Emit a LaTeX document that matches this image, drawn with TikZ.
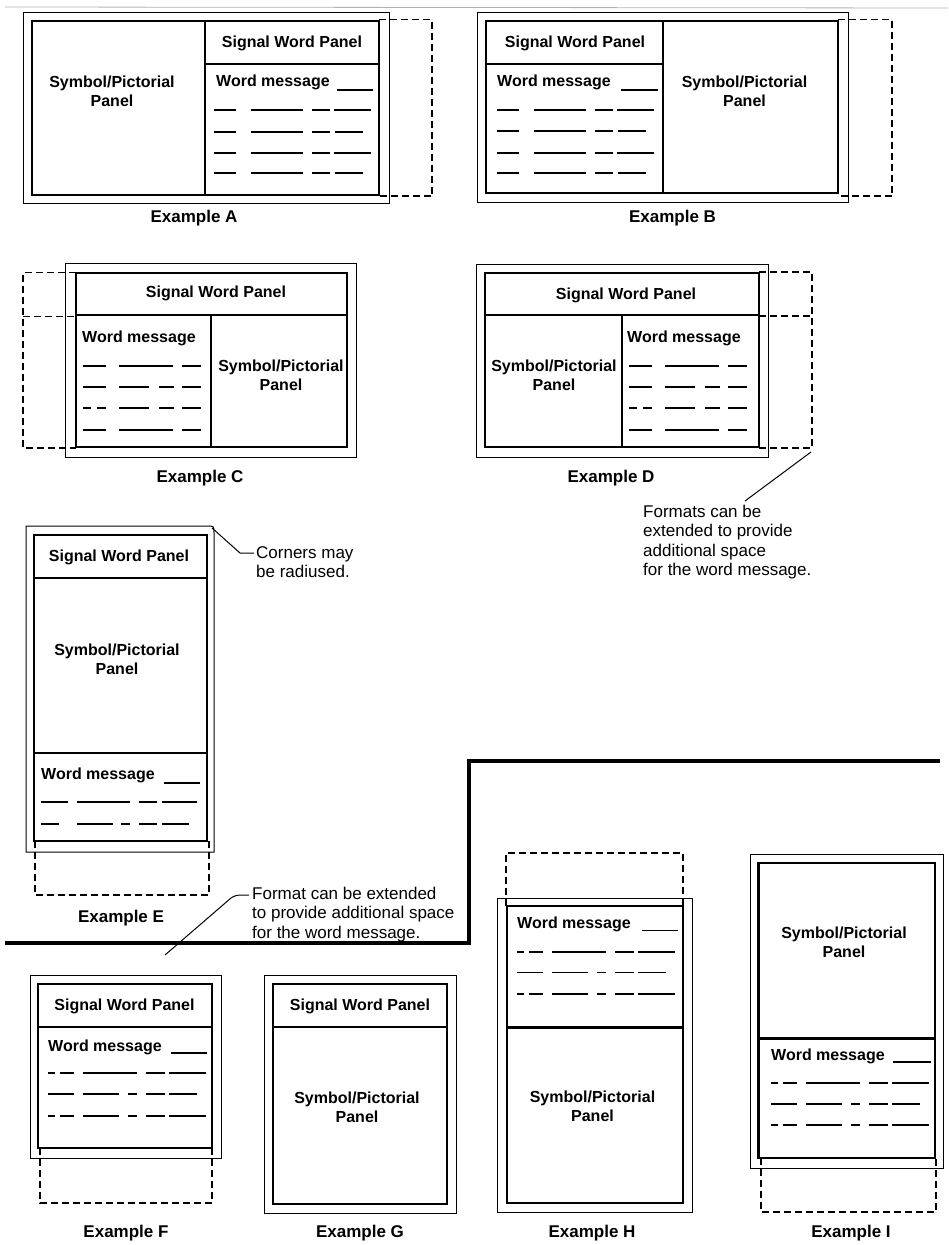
\documentclass[tikz,border=0pt]{standalone}
\usepackage{fontspec}
\setmainfont{Liberation Sans}
\tikzset{
outer/.style={line width=1pt}, % thin outer frame of a sign
panel/.style={line width=2.7pt}, % heavy panel borders and dividers
extend/.style={line width=1.2pt, dash pattern=on 7pt off 4pt}, % room to extend the format
msg/.style={line width=1.7pt}, % dummy lines of the word message
lbl/.style={font=\bfseries\fontsize{16}{19}\selectfont, align=center, inner sep=0pt},
exlabel/.style={font=\bfseries\fontsize{17}{20}\selectfont, inner sep=0pt},
note/.style={font=\fontsize{17}{19.3}\selectfont, align=left, inner sep=0pt},
}
% one row of message dashes: start x, y, list of from/to offsets
\newcommand{\msgrow}[3]{\foreach \a/\b in #3 {\draw[msg] ({#1+\a},#2) -- ({#1+\b},#2);}}
\def\abfull{0/22,37/89,98/116,120/157}
\def\abshort{0/22,37/89,98/116,121/149}
\def\cdone{0/23,36/90,99/118}
\def\cdtwo{0/23,36/66,76/91,99/118}
\def\cdthree{0/8,14/23,36/66,76/91,99/118}
\def\eone{0/27,36/89,98/116,121/156}
\def\etwo{0/18,36/72,80/89,98/116,121/148}
\def\fhone{0/7,12/26,35/89,98/117,121/158}
\def\fhtwo{0/26,35/71,80/89,98/117,121/149}
\def\fhthree{0/7,12/26,35/71,80/89,98/117,121/158}

\begin{document}
\begin{tikzpicture}[x=1pt, y=-1pt]
\useasboundingbox (0,0) rectangle (948,1245);
\draw[gray!60, line width=0.8pt] (5,7) -- (948,8);

% Example A
\draw[extend] (379,19.5) -- (432,19.5) -- (432,196) -- (379,196);
\draw[outer] (23,12) rectangle (389,203);
\draw[panel] (32,21) rectangle (379,195) (205,21) -- (205,195) (205,64) -- (379,64);
\node[lbl] (spA) at (112,91.5) {Symbol/Pictorial\\Panel};
\node[lbl] (swA) at (292,43) {Signal Word Panel};
\node[lbl, anchor=west] (wmA) at (216,82) {Word message};
\draw[msg] (337,90) -- (373,90);
\msgrow{214}{110}{\abfull}
\msgrow{214}{132}{\abshort}
\msgrow{214}{153}{\abfull}
\msgrow{214}{173}{\abshort}
\node[exlabel] (exA) at (194,218) {Example A};

% Example B
\draw[extend] (838,19.5) -- (892,19.5) -- (892,196) -- (838,196);
\draw[outer] (477,12) rectangle (848,202);
\draw[panel] (486,21) rectangle (838,193) (663,21) -- (663,193) (486,64) -- (663,64);
\node[lbl] (swB) at (575,43) {Signal Word Panel};
\node[lbl, anchor=west] (wmB) at (497,82) {Word message};
\draw[msg] (621,90) -- (658,90);
\msgrow{497}{110}{\abfull}
\msgrow{497}{131}{\abshort}
\msgrow{497}{153}{\abfull}
\msgrow{497}{173}{\abshort}
\node[lbl] (spB) at (744.5,91.5) {Symbol/Pictorial\\Panel};
\node[exlabel] (exB) at (672.5,218) {Example B};

% Example C
\draw[extend] (76,272.5) -- (23,272.5) -- (23,448) -- (76,448) (23,316.5) -- (76,316.5);
\draw[outer] (65,263) rectangle (356,457);
\draw[panel] (76,273) rectangle (347,447) (76,315) -- (347,315) (211,315) -- (211,447);
\node[lbl] (swC) at (216,293) {Signal Word Panel};
\node[lbl, anchor=west] (wmC) at (82,338) {Word message};
\msgrow{83}{366}{\cdone}
\msgrow{83}{387}{\cdtwo}
\msgrow{83}{408}{\cdthree}
\msgrow{83}{430}{\cdone}
\node[lbl] (spC) at (281,375.5) {Symbol/Pictorial\\Panel};
\node[exlabel] (exC) at (200,478) {Example C};

% Example D
\draw[extend] (759,272) -- (812,272) -- (812,448) -- (759,448) (759,316) -- (812,316);
\draw[outer] (476,264) rectangle (768,457);
\draw[panel] (485,273) rectangle (759,447) (485,315) -- (759,315) (622,315) -- (622,447);
\node[lbl] (swD) at (626,295) {Signal Word Panel};
\node[lbl] (spD) at (554,375.5) {Symbol/Pictorial\\Panel};
\node[lbl, anchor=west] (wmD) at (627,338) {Word message};
\msgrow{629}{366}{\cdone}
\msgrow{629}{387}{\cdtwo}
\msgrow{629}{408}{\cdthree}
\msgrow{629}{430}{\cdone}
\node[exlabel] (exD) at (611,478) {Example D};
\node[note, anchor=north west] (noteD) at (643,505) {Formats can be\\extended to provide\\additional space\\for the word message.};
\coordinate (extD) at (811,452);
\coordinate (tipD) at (745,501);
\draw[line width=1pt] (extD) -- (tipD);

% Example E
\draw[extend] (35,841) -- (35,895) -- (209,895) -- (209,841);
\draw[outer] (26,852) -- (26,526) -- (207,526) .. controls (214,526) .. (214,533) -- (214,852) -- cycle;
\draw[panel] (34,535) rectangle (207,841) (34,578) -- (207,578) (34,753) -- (207,753);
\node[lbl] (swE) at (119,557) {Signal Word Panel};
\node[lbl] (spE) at (117,659) {Symbol/Pictorial\\Panel};
\node[lbl, anchor=west] (wmE) at (41,775) {Word message};
\draw[msg] (164,783) -- (200,783);
\msgrow{41}{802}{\eone}
\msgrow{41}{824}{\etwo}
\node[exlabel] (exE) at (121,918) {Example E};
\node[note, anchor=north west] (noteE) at (256,546) {Corners may\\be radiused.};
\coordinate (crE) at (212,528);
\coordinate (tipE) at (254,553);
\draw[line width=1pt] (crE) -- (240,553) -- (tipE);

% divider between the two groups
\draw[line width=4pt] (5,943) -- (469,943) -- (469,761) -- (940,761);

% Example F
\draw[extend] (40,1148) -- (40,1203) -- (212,1203) -- (212,1148);
\draw[outer] (30,975) rectangle (221,1158);
\draw[panel] (38,984) rectangle (212,1148) (38,1027) -- (212,1027);
\node[lbl] (swF) at (124.5,1006) {Signal Word Panel};
\node[lbl, anchor=west] (wmF) at (48,1047) {Word message};
\draw[msg] (171,1053) -- (207,1053);
\msgrow{48}{1073}{\fhone}
\msgrow{48}{1094}{\fhtwo}
\msgrow{48}{1116}{\fhthree}
\node[exlabel] (exF) at (126,1233) {Example F};
\node[note, anchor=north west] (noteF) at (252,887) {Format can be extended\\to provide additional space\\for the word message.};
\coordinate (tipF) at (165,955);
\coordinate (endF) at (249,895);
\draw[line width=1pt] (tipF) -- (231,898) .. controls (236,895) .. (endF);

% Example G
\draw[outer] (264,975) rectangle (456,1213);
\draw[panel] (273,984) rectangle (447,1204) (273,1027) -- (447,1027);
\node[lbl] (swG) at (360,1006) {Signal Word Panel};
\node[lbl] (spG) at (357,1107) {Symbol/Pictorial\\Panel};
\node[exlabel] (exG) at (360,1233) {Example G};

% Example H
\draw[extend] (506,906) -- (506,853) -- (683,853) -- (683,906);
\draw[outer] (497.5,898) rectangle (692,1212);
\draw[panel] (507,906) rectangle (683,1203) (507,1027.5) -- (683,1027.5);
\node[lbl, anchor=west] (wmH) at (517,924) {Word message};
\draw[msg] (642,930.5) -- (678,930.5);
\msgrow{517}{952}{\fhone}
\msgrow{517}{972.5}{\fhtwo}
\msgrow{517}{994}{\fhthree}
\node[lbl] (spH) at (592.5,1106.5) {Symbol/Pictorial\\Panel};
\node[exlabel] (exH) at (592,1233) {Example H};

% Example I
\draw[extend] (761,1158) -- (761,1212) -- (936,1212) -- (936,1158);
\draw[outer] (750,854) rectangle (943,1168);
\draw[panel] (758.5,863) rectangle (935,1158) (758.5,1038.5) -- (935,1038.5);
\node[lbl] (spI) at (844,942.5) {Symbol/Pictorial\\Panel};
\node[lbl, anchor=west] (wmI) at (771,1056) {Word message};
\draw[msg] (893,1062) -- (931,1062);
\msgrow{771}{1083}{\fhone}
\msgrow{771}{1104}{\fhtwo}
\msgrow{771}{1125}{\fhthree}
\node[exlabel] (exI) at (851,1233) {Example I};
\end{tikzpicture}
\end{document}
